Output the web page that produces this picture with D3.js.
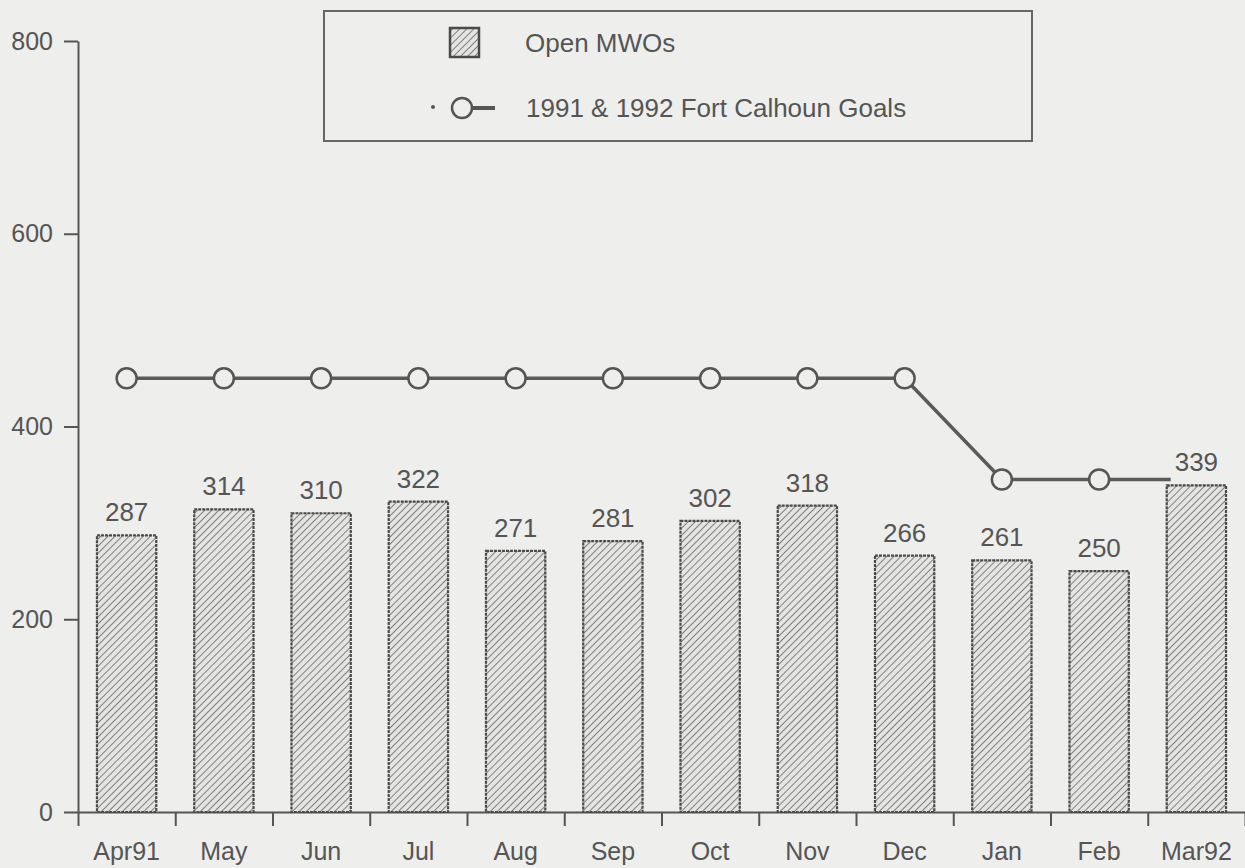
<!DOCTYPE html>
<html>
<head>
<meta charset="utf-8">
<script src="https://cdn.jsdelivr.net/npm/d3@7"></script>
<style>
  html, body { margin: 0; padding: 0; background: #eeeeec; }
  svg { display: block; }
  text { font-family: "Liberation Sans", Arial, Helvetica, sans-serif; fill: #555; }
</style>
</head>
<body>
<svg id="chart" width="1245" height="868"></svg>
<script>
const months = ["Apr91","May","Jun","Jul","Aug","Sep","Oct","Nov","Dec","Jan","Feb","Mar92"];
const openMWOs = [287,314,310,322,271,281,302,318,266,261,250,339];
const goals = [450,450,450,450,450,450,450,450,450,345,345,345];
const yTicks = [0,200,400,600,800];
const legendLabels = ["Open MWOs", "1991 & 1992 Fort Calhoun Goals"];

const BG = "#eeeeec", INK = "#555";
const svg = d3.select("#chart");

const defs = svg.append("defs");
const pat = defs.append("pattern")
  .attr("id", "hatch").attr("patternUnits", "userSpaceOnUse")
  .attr("width", 5).attr("height", 5)
  .attr("patternTransform", "rotate(45)");
pat.append("rect").attr("width", 5).attr("height", 5).attr("fill", "#e4e4e2");
pat.append("line").attr("x1", 0).attr("y1", 0).attr("x2", 0).attr("y2", 5)
  .attr("stroke", "#808080").attr("stroke-width", 2);

const x = d3.scaleBand().domain(months).range([78, 1245])
  .paddingInner(0.39).paddingOuter(0.195);
const xEdge = d3.scaleLinear().domain([0, months.length]).range([78, 1245]);
const y = d3.scaleLinear().domain([0, 800]).range([812, 41]);

// Y axis
const yAxis = svg.append("g").attr("transform", "translate(78,0)")
  .call(d3.axisLeft(y).tickValues(yTicks).tickSize(14).tickPadding(11).tickSizeOuter(0));
yAxis.select(".domain").attr("stroke", INK).attr("stroke-width", 2);
yAxis.selectAll(".tick line").attr("stroke", INK).attr("stroke-width", 2);
yAxis.selectAll(".tick text").attr("font-size", 25).style("fill", INK)
  .attr("font-family", "Liberation Sans, Arial, sans-serif");

// X axis: boundary ticks
const xAxisTicks = svg.append("g").attr("transform", "translate(0,812)")
  .call(d3.axisBottom(xEdge).tickValues(d3.range(0, months.length + 1)).tickSize(14).tickFormat("").tickSizeOuter(0));
xAxisTicks.select(".domain").attr("stroke", INK).attr("stroke-width", 2);
xAxisTicks.selectAll(".tick line").attr("stroke", INK).attr("stroke-width", 2);

// X labels
const xAxis = svg.append("g").attr("transform", "translate(0,812)")
  .call(d3.axisBottom(x).tickSize(0).tickPadding(30));
xAxis.select(".domain").remove();
xAxis.selectAll(".tick text").attr("font-size", 25).style("fill", INK)
  .attr("font-family", "Liberation Sans, Arial, sans-serif");

// Goal line
const line = d3.line().x((d, i) => x(months[i]) + x.bandwidth() / 2).y(d => y(d));
svg.append("path").datum(goals).attr("d", line)
  .attr("fill", "none").attr("stroke", "#5a5a5a").attr("stroke-width", 3.5);
svg.selectAll("circle.goal").data(goals).join("circle").attr("class", "goal")
  .attr("cx", (d, i) => x(months[i]) + x.bandwidth() / 2)
  .attr("cy", d => y(d)).attr("r", 10)
  .attr("fill", BG).attr("stroke", INK).attr("stroke-width", 2.5);

// Value label backgrounds + labels
const labelG = svg.append("g");
const labels = labelG.selectAll("text").data(openMWOs).join("text")
  .attr("x", (d, i) => x(months[i]) + x.bandwidth() / 2)
  .attr("y", d => y(d) - 14)
  .attr("text-anchor", "middle").attr("font-size", 26)
  .text(d => d);
const bgG = svg.insert("g", () => labelG.node());
labels.each(function(d) {
  const b = this.getBBox();
  bgG.append("rect").attr("x", b.x - 4).attr("y", b.y - 2)
    .attr("width", b.width + 8).attr("height", y(d) - (b.y - 2)).attr("fill", BG);
});

// Bars
svg.insert("g", () => labelG.node()).selectAll("rect").data(openMWOs).join("rect")
  .attr("x", (d, i) => x(months[i]))
  .attr("y", d => y(d))
  .attr("width", x.bandwidth())
  .attr("height", d => y(0) - y(d))
  .attr("fill", "url(#hatch)")
  .attr("stroke", "#4a4a4a").attr("stroke-width", 2.2).attr("stroke-dasharray", "3,1");

// Legend
const lg = svg.append("g");
lg.append("rect").attr("x", 324).attr("y", 11).attr("width", 708).attr("height", 130)
  .attr("fill", "none").attr("stroke", "#666").attr("stroke-width", 2);
lg.append("rect").attr("x", 450).attr("y", 28).attr("width", 29).attr("height", 29)
  .attr("fill", "url(#hatch)").attr("stroke", "#4a4a4a").attr("stroke-width", 2.5);
lg.append("text").attr("x", 525).attr("y", 52).attr("font-size", 26).text(legendLabels[0]);
lg.append("circle").attr("cx", 433).attr("cy", 107).attr("r", 2).attr("fill", INK);
lg.append("line").attr("x1", 470).attr("x2", 495).attr("y1", 108).attr("y2", 108)
  .attr("stroke", INK).attr("stroke-width", 4);
lg.append("circle").attr("cx", 462).attr("cy", 108).attr("r", 10)
  .attr("fill", BG).attr("stroke", INK).attr("stroke-width", 2.5);
lg.append("text").attr("x", 526).attr("y", 117).attr("font-size", 26).text(legendLabels[1]);
</script>
</body>
</html>
